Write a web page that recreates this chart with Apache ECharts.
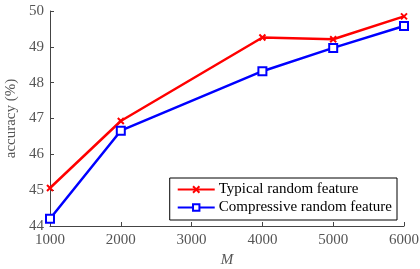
<!DOCTYPE html>
<html><head><meta charset="utf-8">
<script src="https://cdn.jsdelivr.net/npm/echarts@6/dist/echarts.min.js"></script>
<style>html,body{margin:0;padding:0;background:#fff}#c{width:420px;height:269px}</style>
</head><body><div id="c"></div>
<script>
const xValues = [1000, 2000, 4000, 5000, 6000];
const typicalValues = [45.06, 46.93, 49.26, 49.21, 49.85];
const compressiveValues = [44.2, 46.66, 48.32, 48.97, 49.58];
const seriesNames = ['Typical random feature', 'Compressive random feature'];
const xTicks = [1000, 2000, 3000, 4000, 5000, 6000];
const yTicks = [44, 45, 46, 47, 48, 49, 50];

const font = 'Liberation Serif';
const chart = echarts.init(document.getElementById('c'), null, {renderer: 'canvas'});
chart.setOption({
  animation: false,
  backgroundColor: '#fff',
  grid: {left: 50, right: 16, top: 11, bottom: 43, containLabel: false, outerBoundsMode: 'none'},
  xAxis: {
    type: 'value', min: xTicks[0], max: xTicks[xTicks.length-1], interval: 1000,
    name: 'M', nameLocation: 'middle', nameGap: 25,
    nameTextStyle: {fontFamily: font, fontStyle: 'italic', fontSize: 15, color: '#555'},
    axisLine: {lineStyle: {color: '#444', width: 1}},
    axisTick: {inside: true, length: 4, lineStyle: {color: '#444'}},
    axisLabel: {fontFamily: font, fontSize: 15, color: '#555', margin: 7, formatter: v => String(v)},
    splitLine: {show: false}
  },
  yAxis: {
    type: 'value', min: yTicks[0], max: yTicks[yTicks.length-1], interval: 1,
    name: 'accuracy (%)', nameLocation: 'middle', nameGap: 27, nameRotate: 90,
    nameTextStyle: {fontFamily: font, fontSize: 15, color: '#555'},
    axisLine: {show: true, lineStyle: {color: '#444', width: 1}},
    axisTick: {show: true, inside: true, length: 4, lineStyle: {color: '#444'}},
    axisLabel: {fontFamily: font, fontSize: 15, color: '#555', margin: 6},
    splitLine: {show: false}
  },
  legend: {
    orient: 'vertical', right: 23, bottom: 49,
    backgroundColor: '#fff', borderColor: '#000', borderWidth: 1,
    padding: [4, 5, 5, 7], itemGap: 3, itemWidth: 37, itemHeight: 8,
    textStyle: {fontFamily: font, fontSize: 15, color: '#000', padding: [0,0,0,-1]},
    data: seriesNames
  },
  series: [
    {
      name: seriesNames[0], type: 'line',
      data: xValues.map((x, i) => [x, typicalValues[i]]),
      lineStyle: {color: '#ff0000', width: 2.5},
      itemStyle: {color: '#ff0000', borderColor: '#ff0000', borderWidth: 2},
      symbol: 'path://M0,0L10,10M10,0L0,10', symbolSize: 6, showSymbol: true
    },
    {
      name: seriesNames[1], type: 'line',
      data: xValues.map((x, i) => [x, compressiveValues[i]]),
      lineStyle: {color: '#0000ff', width: 2.5},
      itemStyle: {color: '#fff', borderColor: '#0000ff', borderWidth: 2},
      symbol: 'rect', symbolSize: 8, showSymbol: true
    }
  ]
});
</script></body></html>
